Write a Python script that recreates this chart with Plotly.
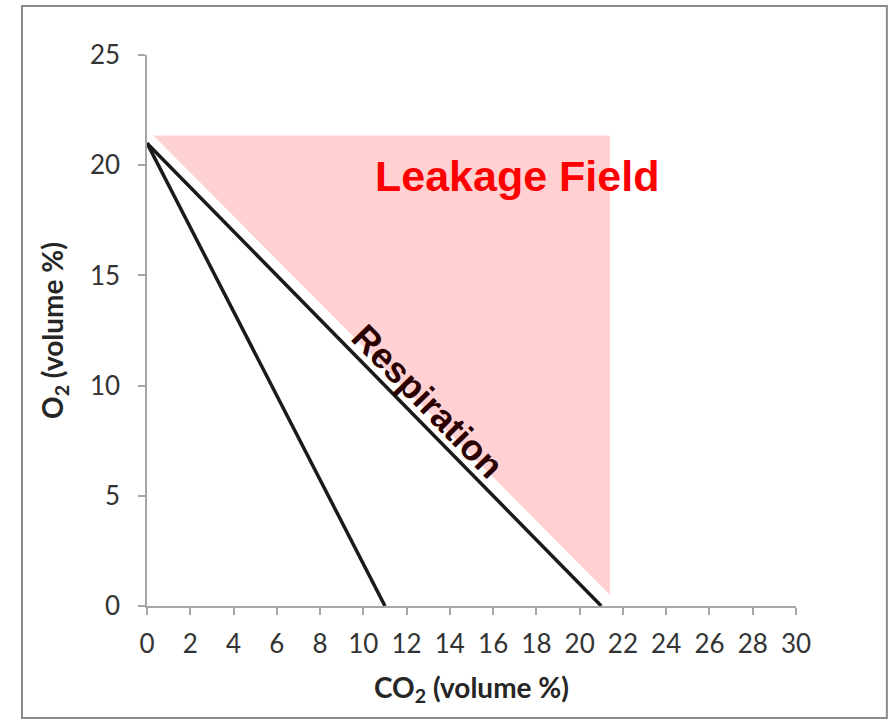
import plotly.graph_objects as go

# Data
resp_x = [0, 21]
resp_y = [21, 0]
steep_x = [0, 11]
steep_y = [21, 0]
field_x = [0.3, 21.4, 21.4]
field_y = [21.35, 21.35, 0.5]
x_ticks = list(range(0, 31, 2))
y_ticks = list(range(0, 26, 5))

fig = go.Figure()
fig.add_trace(go.Scatter(x=field_x, y=field_y, fill="toself", fillcolor="#FFD1D3",
                         mode="none", hoverinfo="skip", showlegend=False))
fig.add_trace(go.Scatter(x=resp_x, y=resp_y, mode="lines",
                         line=dict(color="#1a1a1a", width=3.5), showlegend=False))
fig.add_trace(go.Scatter(x=steep_x, y=steep_y, mode="lines",
                         line=dict(color="#1a1a1a", width=3.5), showlegend=False))

fig.add_annotation(x=17.1, y=19.5, text="<b>Leakage Field</b>", showarrow=False,
                   font=dict(family="Liberation Sans, Arial", size=43, color="#FF0000"))
fig.add_annotation(x=13.0, y=9.3, text="<b>Respiration</b>", showarrow=False, textangle=45.6,
                   font=dict(family="Liberation Sans, Arial", size=36, color="#2a0000"))

# outer border
fig.add_shape(type="rect", xref="paper", yref="paper",
              x0=-0.1926, x1=1.140, y0=-0.2033, y1=1.0889,
              line=dict(color="#8a8a8a", width=2), fillcolor="rgba(0,0,0,0)", layer="below")

axis_common = dict(showgrid=False, zeroline=False, showline=True, linecolor="#a6a6a6", linewidth=1.5,
                   ticks="outside", ticklen=7, tickcolor="#a6a6a6", tickwidth=1.5,
                   tickfont=dict(family="Lato", size=26, color="#333333"))

fig.update_xaxes(range=[0, 30], tickvals=x_ticks, ticktext=[str(v) for v in x_ticks],
                 ticklabelstandoff=7,
                 title=dict(text="<b>CO<sub>2</sub> (volume %)</b>", standoff=20,
                            font=dict(family="Lato", size=28, color="#262626")),
                 **axis_common)
fig.update_yaxes(range=[0, 25], tickvals=y_ticks, ticktext=[str(v) for v in y_ticks],
                 ticklabelstandoff=13,
                 title=dict(text="<b>O<sub>2</sub> (volume %)</b>", standoff=18,
                            font=dict(family="Lato", size=28, color="#262626")),
                 **axis_common)

fig.update_layout(width=889, height=724, margin=dict(l=147, r=93, t=55, b=118),
                  plot_bgcolor="white", paper_bgcolor="white")

fig.write_html("out.html")
